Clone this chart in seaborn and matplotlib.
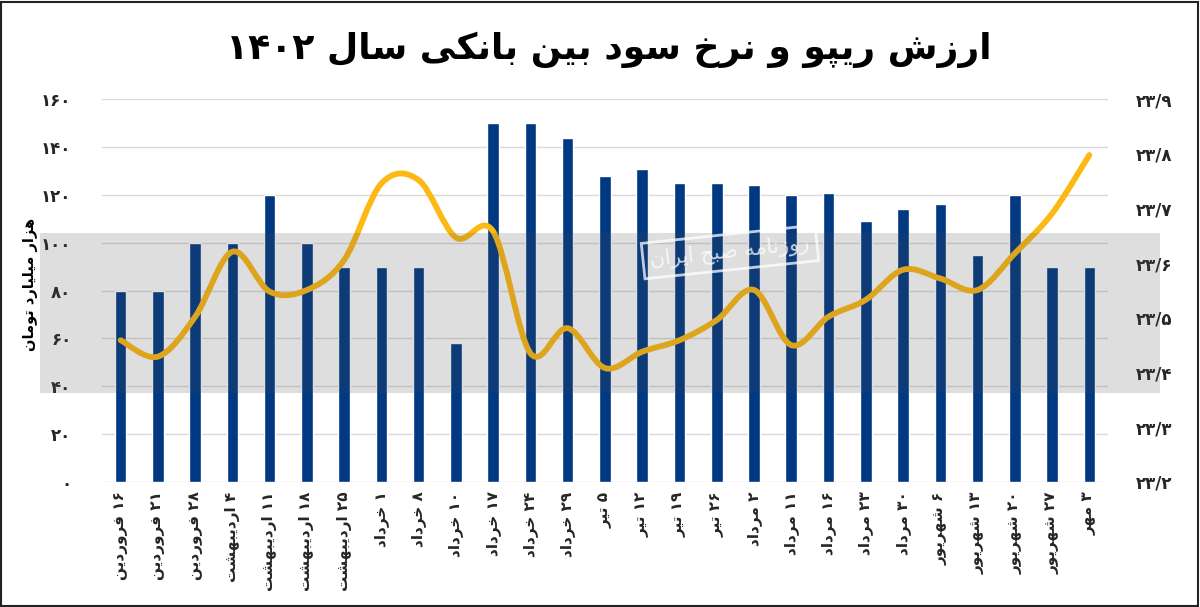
import matplotlib
matplotlib.use("Agg")
import matplotlib.pyplot as plt
from matplotlib.path import Path
from matplotlib.patches import PathPatch, Rectangle
import numpy as np
import pandas as pd
import seaborn as sns

# ---------------- data ----------------
categories = [
    "۱۶ فروردین", "۲۱ فروردین", "۲۸ فروردین", "۴ اردیبهشت", "۱۱ اردیبهشت",
    "۱۸ اردیبهشت", "۲۵ اردیبهشت", "۱ خرداد", "۸ خرداد", "۱۰ خرداد",
    "۱۷ خرداد", "۲۴ خرداد", "۲۹ خرداد", "۵ تیر", "۱۲ تیر", "۱۹ تیر",
    "۲۶ تیر", "۲ مرداد", "۱۱ مرداد", "۱۶ مرداد", "۲۳ مرداد", "۳۰ مرداد",
    "۶ شهریور", "۱۳ شهریور", "۲۰ شهریور", "۲۷ شهریور", "۳ مهر",
]
repo_value = [80, 80, 100, 100, 120, 100, 90, 90, 90, 58,
              150, 150, 144, 128, 131, 125, 125, 124, 120, 121,
              109, 114, 116, 95, 120, 90, 90]
interbank_rate = [23.459, 23.429, 23.502, 23.621, 23.548, 23.551, 23.606,
                  23.746, 23.752, 23.647, 23.658, 23.435, 23.481, 23.408,
                  23.438, 23.459, 23.496, 23.551, 23.450, 23.502, 23.533,
                  23.588, 23.572, 23.551, 23.618, 23.691, 23.798]
left_ticks = [0, 20, 40, 60, 80, 100, 120, 140, 160]
left_labels = ["۰", "۲۰", "۴۰", "۶۰", "۸۰", "۱۰۰", "۱۲۰", "۱۴۰", "۱۶۰"]
right_ticks = [23.2, 23.3, 23.4, 23.5, 23.6, 23.7, 23.8, 23.9]
right_labels = ["۲۳/۲", "۲۳/۳", "۲۳/۴", "۲۳/۵", "۲۳/۶", "۲۳/۷", "۲۳/۸", "۲۳/۹"]
title = "ارزش ریپو و نرخ سود بین بانکی سال ۱۴۰۲"
y_title = "هزار میلیارد تومان"
watermark = "روزنامه صبح ایران"

# ---------------- minimal Persian shaping (no raqm in matplotlib) ----------------
FORMS = {  # isolated, final, initial, medial
    "ا": ("\uFE8D", "\uFE8E", None, None),
    "ب": ("\uFE8F", "\uFE90", "\uFE91", "\uFE92"),
    "پ": ("\uFB56", "\uFB57", "\uFB58", "\uFB59"),
    "ت": ("\uFE95", "\uFE96", "\uFE97", "\uFE98"),
    "ج": ("\uFE9D", "\uFE9E", "\uFE9F", "\uFEA0"),
    "ح": ("\uFEA1", "\uFEA2", "\uFEA3", "\uFEA4"),
    "خ": ("\uFEA5", "\uFEA6", "\uFEA7", "\uFEA8"),
    "د": ("\uFEA9", "\uFEAA", None, None),
    "ر": ("\uFEAD", "\uFEAE", None, None),
    "ز": ("\uFEAF", "\uFEB0", None, None),
    "س": ("\uFEB1", "\uFEB2", "\uFEB3", "\uFEB4"),
    "ش": ("\uFEB5", "\uFEB6", "\uFEB7", "\uFEB8"),
    "ص": ("\uFEB9", "\uFEBA", "\uFEBB", "\uFEBC"),
    "ف": ("\uFED1", "\uFED2", "\uFED3", "\uFED4"),
    "ک": ("\uFB8E", "\uFB8F", "\uFB90", "\uFB91"),
    "ل": ("\uFEDD", "\uFEDE", "\uFEDF", "\uFEE0"),
    "م": ("\uFEE1", "\uFEE2", "\uFEE3", "\uFEE4"),
    "ن": ("\uFEE5", "\uFEE6", "\uFEE7", "\uFEE8"),
    "ه": ("\uFEE9", "\uFEEA", "\uFEEB", "\uFEEC"),
    "و": ("\uFEED", "\uFEEE", None, None),
    "ی": ("\uFBFC", "\uFBFD", "\uFBFE", "\uFBFF"),
}


def _dual(c):
    return c in FORMS and FORMS[c][2] is not None


def shape_word(w):
    out = []
    for i, c in enumerate(w):
        if c not in FORMS:
            out.append(c)
            continue
        prev = w[i - 1] if i > 0 else None
        nxt = w[i + 1] if i + 1 < len(w) else None
        jp = prev is not None and _dual(prev)
        jn = nxt is not None and nxt in FORMS and _dual(c)
        iso, fin, ini, med = FORMS[c]
        if jp and jn:
            out.append(med)
        elif jp:
            out.append(fin)
        elif jn:
            out.append(ini)
        else:
            out.append(iso)
    return "".join(reversed(out))


def rtl(text):
    toks = text.split(" ")
    vis = []
    for t in reversed(toks):
        if any(ch in FORMS for ch in t):
            vis.append(shape_word(t))
        else:
            vis.append(t)
    return " ".join(vis)


# ---------------- figure ----------------
sns.set_theme(style="white")
plt.rcParams["font.family"] = ["DejaVu Sans"]

BAR = "#003882"
LINE = "#FDB913"

fig = plt.figure(figsize=(12, 6.07), dpi=100)
ax = fig.add_axes([0.085, 0.2064, 0.8383, 0.63])

df = pd.DataFrame({"cat": categories, "repo": repo_value, "rate": interbank_rate})
sns.barplot(data=df, x="cat", y="repo", color=BAR, saturation=1, width=0.31, ax=ax, zorder=3)

ax.set_ylim(0, 160)
ax.set_xlim(-0.5, len(categories) - 0.5)
ax.set_yticks(left_ticks)
ax.set_yticklabels(left_labels, fontsize=12, fontweight="bold")
ax.set_xticks(range(len(categories)))
ax.set_xticklabels([rtl(c) for c in categories], rotation=90, fontsize=11,
                   fontweight="bold", va="top", ha="center")
ax.tick_params(axis="y", length=0, pad=22)
ax.tick_params(axis="x", length=0, pad=7)
ax.set_xlabel("")
ax.set_ylabel("")
ax.grid(axis="y", color="#d9d9d9", linewidth=1.0, zorder=0)
ax.set_axisbelow(True)
for s in ax.spines.values():
    s.set_visible(False)

ax2 = ax.twinx()
ax2.set_ylim(23.2, 23.9)
ax2.set_yticks(right_ticks)
ax2.set_yticklabels(right_labels, fontsize=12, fontweight="bold")
ax2.tick_params(axis="y", length=0, pad=20)
for s in ax2.spines.values():
    s.set_visible(False)
ax2.grid(False)

# smoothed line (Bezier through the data points, Excel-like smoothing)
xs = np.arange(len(interbank_rate), dtype=float)
ys = np.array(interbank_rate, dtype=float)
pts = np.column_stack([xs, ys])
verts = [tuple(pts[0])]
codes = [Path.MOVETO]
n = len(pts)
for i in range(n - 1):
    p0 = pts[i - 1] if i > 0 else pts[i]
    p1 = pts[i]
    p2 = pts[i + 1]
    p3 = pts[i + 2] if i + 2 < n else pts[i + 1]
    c1 = p1 + (p2 - p0) / 6.0
    c2 = p2 - (p3 - p1) / 6.0
    verts += [tuple(c1), tuple(c2), tuple(p2)]
    codes += [Path.CURVE4] * 3
ax2.add_patch(PathPatch(Path(verts, codes), facecolor="none", edgecolor=LINE,
                        linewidth=4.2, capstyle="round", joinstyle="round", zorder=4))

# titles
fig.text(0.507, 1 - 50 / 607, rtl(title), ha="center", va="center",
         fontsize=26, fontweight="bold", color="black")
fig.text(31 / 1200, 1 - 284 / 607, rtl(y_title), ha="center", va="center",
         rotation=90, fontsize=10.5, fontweight="bold", color="black")

# watermark band and label
fig.patches.append(Rectangle((40 / 1200, 1 - 393 / 607), 1120 / 1200, 160 / 607,
                             transform=fig.transFigure, facecolor="#4d4d4d",
                             alpha=0.18, edgecolor="none", zorder=10))
fig.text(730 / 1200, 1 - 252 / 607, rtl(watermark), ha="center", va="center",
         rotation=6, fontsize=15, color="white", alpha=0.75, zorder=11,
         bbox=dict(boxstyle="square,pad=0.35", facecolor="none",
                   edgecolor="white", linewidth=2, alpha=0.75))

# frame
fig.patches.append(Rectangle((0.0008, 0.002), 0.9975, 0.995, transform=fig.transFigure,
                             facecolor="none", edgecolor="#222222", linewidth=1.5,
                             zorder=20))

fig.savefig("out.png", dpi=100)
